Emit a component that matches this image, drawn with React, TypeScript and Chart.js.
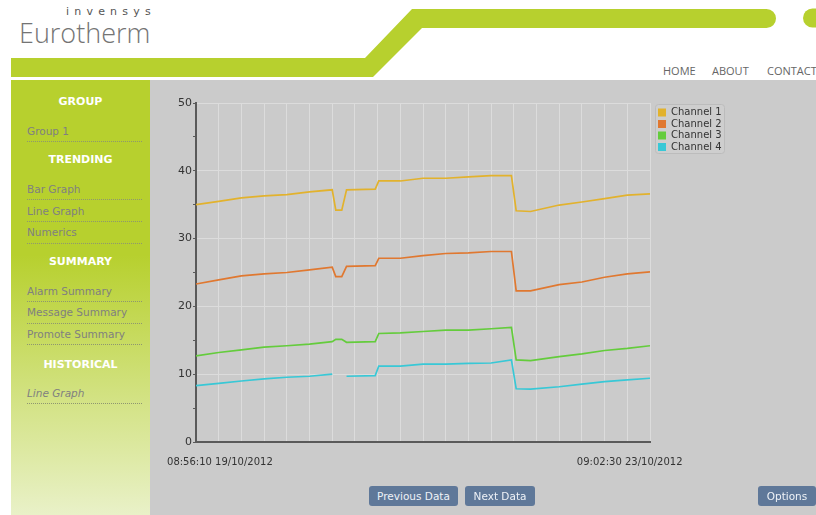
import React, { useEffect, useRef } from 'react';
import { Chart, registerables } from 'chart.js';

Chart.register(...registerables);

// ---- data (x = seconds from 08:56:10) ----
const times = [0, 19, 38, 57, 76, 95, 114, 117, 122, 126, 150, 153, 171, 190, 209, 228, 247, 264, 268, 280, 304, 323, 342, 361, 380];
const channel1 = [35.0, 35.5, 36.0, 36.3, 36.5, 36.9, 37.2, 34.2, 34.2, 37.2, 37.3, 38.5, 38.5, 38.9, 38.9, 39.1, 39.3, 39.3, 34.1, 34.0, 34.95, 35.4, 35.9, 36.4, 36.6];
const channel2 = [23.3, 23.9, 24.5, 24.8, 25.0, 25.4, 25.8, 24.4, 24.4, 25.9, 26.0, 27.1, 27.1, 27.5, 27.8, 27.9, 28.1, 28.1, 22.3, 22.3, 23.2, 23.6, 24.3, 24.8, 25.1];
const channel3 = [12.7, 13.2, 13.6, 14.0, 14.2, 14.45, 14.8, 15.15, 15.15, 14.7, 14.8, 16.0, 16.1, 16.3, 16.5, 16.5, 16.7, 16.9, 12.1, 12.0, 12.6, 13.0, 13.5, 13.8, 14.2];
const channel4 = [8.3, 8.65, 9.0, 9.3, 9.55, 9.7, 10.0, null, null, 9.7, 9.8, 11.2, 11.2, 11.5, 11.5, 11.6, 11.65, 12.1, 7.85, 7.8, 8.15, 8.55, 8.9, 9.15, 9.4];
const channelNames = ['Channel 1', 'Channel 2', 'Channel 3', 'Channel 4'];
const channelColors = ['#e2b22d', '#e07830', '#64cc3c', '#38c8d6'];
const seriesList = [channel1, channel2, channel3, channel4];
const dateLabels = ['08:56:10 19/10/2012', '09:02:30 23/10/2012'];
const dateLabelTimes = [20, 363];
const timeMax = 380;
const timeStep = 19;
const yMax = 50;

const FONT = "'DejaVu Sans', Verdana, sans-serif";

const sideItems = [
  { kind: 'head', text: 'GROUP', y: 102 },
  { kind: 'item', text: 'Group 1', y: 131, line: 141 },
  { kind: 'head', text: 'TRENDING', y: 160 },
  { kind: 'item', text: 'Bar Graph', y: 189, line: 199 },
  { kind: 'item', text: 'Line Graph', y: 211, line: 221 },
  { kind: 'item', text: 'Numerics', y: 232, line: 243 },
  { kind: 'head', text: 'SUMMARY', y: 262 },
  { kind: 'item', text: 'Alarm Summary', y: 291, line: 301 },
  { kind: 'item', text: 'Message Summary', y: 312, line: 323 },
  { kind: 'item', text: 'Promote Summary', y: 334, line: 344 },
  { kind: 'head', text: 'HISTORICAL', y: 365 },
  { kind: 'italic', text: 'Line Graph', y: 393, line: 403 },
];

const GREEN = '#b7d02e';

export default function App() {
  const canvasRef = useRef<HTMLCanvasElement>(null);

  useEffect(() => {
    const canvas = canvasRef.current;
    if (!canvas) return;

    const legendFrame = {
      id: 'legendFrame',
      beforeDraw(chart: any) {
        const lg = chart.legend;
        if (!lg || !lg.legendHitBoxes || !lg.legendHitBoxes.length) return;
        let l = Infinity, t = Infinity, r = -Infinity, b = -Infinity;
        lg.legendHitBoxes.forEach((h: any) => {
          l = Math.min(l, h.left);
          t = Math.min(t, h.top);
          r = Math.max(r, h.left + h.width);
          b = Math.max(b, h.top + h.height);
        });
        const ctx = chart.ctx;
        ctx.save();
        ctx.beginPath();
        const x0 = Math.round(l - 3) + 0.5;
        const y0 = Math.round(t - 3.5) + 0.5;
        const w = Math.round(r + 2 - (l - 3));
        const h = Math.round(b + 1 - (t - 3.5));
        if ((ctx as any).roundRect) (ctx as any).roundRect(x0, y0, w, h, 3);
        else ctx.rect(x0, y0, w, h);
        ctx.fillStyle = '#cecece';
        ctx.fill();
        ctx.strokeStyle = '#bcbcbc';
        ctx.lineWidth = 1;
        ctx.stroke();
        ctx.restore();
      },
    };

    const chart = new Chart(canvas, {
      type: 'line',
      data: {
        datasets: seriesList.map((s, i) => ({
          label: channelNames[i],
          data: times.map((t, k) => ({ x: t, y: s[k] })),
          borderColor: channelColors[i],
          backgroundColor: channelColors[i],
          borderWidth: 1.7,
          pointRadius: 0,
          tension: 0,
          spanGaps: false,
          fill: false,
        })),
      },
      options: {
        animation: false,
        responsive: false,
        devicePixelRatio: 1,
        layout: { padding: { top: 23, left: 0, right: 84.4, bottom: 12 } },
        plugins: {
          tooltip: { enabled: false },
          legend: {
            position: 'right',
            align: 'start',
            title: { display: true, text: '', font: { size: 3, lineHeight: 1 }, padding: 0 },
            labels: {
              boxWidth: 8,
              boxHeight: 8,
              padding: 1.5,
              color: '#333',
              font: { family: FONT, size: 10 },
              generateLabels: (c: any) =>
                (Chart.defaults.plugins.legend.labels.generateLabels as any)(c).map((it: any) => ({ ...it, lineWidth: 0 })),
            },
          },
        },
        scales: {
          x: {
            type: 'linear',
            min: 0,
            max: timeMax,
            ticks: { stepSize: timeStep, display: false },
            grid: { color: '#dcdcdc', drawTicks: false },
            border: { color: '#5a5a5a', width: 2 },
          },
          x2: {
            type: 'linear',
            position: 'bottom',
            weight: 1,
            min: 0,
            max: timeMax,
            grid: { display: false, drawTicks: false },
            border: { display: false },
            ticks: {
              autoSkip: false,
              maxRotation: 0,
              padding: 14,
              color: '#333',
              font: { family: FONT, size: 10 },
              callback: (_v: any, i: number) => dateLabels[i] ?? '',
            },
            afterBuildTicks: (s: any) => {
              s.ticks = dateLabelTimes.map((v) => ({ value: v }));
            },
          },
          y: {
            type: 'linear',
            min: 0,
            max: yMax,
            ticks: {
              stepSize: 5,
              padding: 1,
              color: '#333',
              font: { family: FONT, size: 11 },
              callback: (v: any) => (Number(v) % 10 === 0 ? String(v) : ''),
            },
            grid: {
              color: (c: any) => (c.tick && c.tick.value % 10 === 0 ? '#dcdcdc' : 'rgba(0,0,0,0)'),
              tickColor: '#5a5a5a',
              tickLength: 3,
            },
            border: { color: '#5a5a5a', width: 2 },
            afterFit: (s: any) => {
              s.width = 46;
            },
          },
          yR: {
            type: 'linear',
            position: 'right',
            grid: { display: false, drawTicks: false },
            border: { display: false },
            ticks: { display: false },
            afterFit: (s: any) => {
              s.width = 6.5;
            },
          },
        },
      } as any,
      plugins: [legendFrame],
    });

    return () => chart.destroy();
  }, []);

  const abs = (o: React.CSSProperties): React.CSSProperties => ({ position: 'absolute', ...o });

  return (
    <div style={{ position: 'fixed', left: 0, top: 0, width: 816, height: 515, overflow: 'hidden', background: '#fff', fontFamily: FONT }}>
      {/* header shapes */}
      <svg width={816} height={80} style={abs({ left: 0, top: 0 })}>
        <path d="M11,58 L365,58 L412,9 L766.5,9 A9.5,9.5 0 0 1 766.5,28 L422,28 L373,77 L11,77 Z" fill={GREEN} />
        <rect x={803} y={8.5} width={40} height={19} rx={9.5} fill={GREEN} />
      </svg>
      <div style={abs({ left: 66, top: 5, fontSize: 11, letterSpacing: 5.2, color: '#555', fontFamily: FONT })}>invensys</div>
      <div style={abs({ left: 19, top: 19, fontSize: 27, lineHeight: 1, fontWeight: 300, color: '#747474', fontFamily: "'Open Sans', sans-serif" })}>Eurotherm</div>
      <div style={abs({ left: 663, top: 63, fontSize: 11, color: '#666', fontFamily: "'Open Sans', sans-serif" })}>HOME</div>
      <div style={abs({ left: 712, top: 63, fontSize: 11, color: '#666', fontFamily: "'Open Sans', sans-serif" })}>ABOUT</div>
      <div style={abs({ left: 767, top: 63, fontSize: 11, color: '#666', fontFamily: "'Open Sans', sans-serif", whiteSpace: 'nowrap' })}>CONTACT</div>

      {/* sidebar */}
      <div style={abs({ left: 11, top: 80, width: 139, height: 435, background: `linear-gradient(to bottom, ${GREEN} 0px, ${GREEN} 175px, #e9f1c8 435px)` })} />
      {sideItems.map((it, i) =>
        it.kind === 'head' ? (
          <div key={i} style={abs({ left: 11, width: 139, top: it.y - 7, lineHeight: '14px', textAlign: 'center', fontSize: 11, fontWeight: 'bold', color: '#fff' })}>
            {it.text}
          </div>
        ) : (
          <React.Fragment key={i}>
            <div style={abs({ left: 27, top: it.y - 7, lineHeight: '14px', fontSize: 10.5, color: '#808080', fontStyle: it.kind === 'italic' ? 'italic' : 'normal', whiteSpace: 'nowrap' })}>
              {it.text}
            </div>
            <div style={abs({ left: 27, width: 115, top: (it as any).line, height: 0, borderTop: '1px dotted #8e9670' })} />
          </React.Fragment>
        )
      )}

      {/* content */}
      <div style={abs({ left: 150, top: 80, width: 666, height: 435, background: '#cbcbcb' })} />
      <canvas ref={canvasRef} width={666} height={414} style={abs({ left: 150, top: 80, width: 666, height: 414 })} />

      {[
        { text: 'Previous Data', left: 369, width: 89 },
        { text: 'Next Data', left: 465, width: 70 },
        { text: 'Options', left: 758, width: 58 },
      ].map((b, i) => (
        <div key={i} style={abs({ left: b.left, top: 486, width: b.width, height: 20, lineHeight: '20px', borderRadius: 3, background: '#5f7899', color: '#eef2f7', fontSize: 10.5, textAlign: 'center', whiteSpace: 'nowrap' })}>
          {b.text}
        </div>
      ))}
    </div>
  );
}
